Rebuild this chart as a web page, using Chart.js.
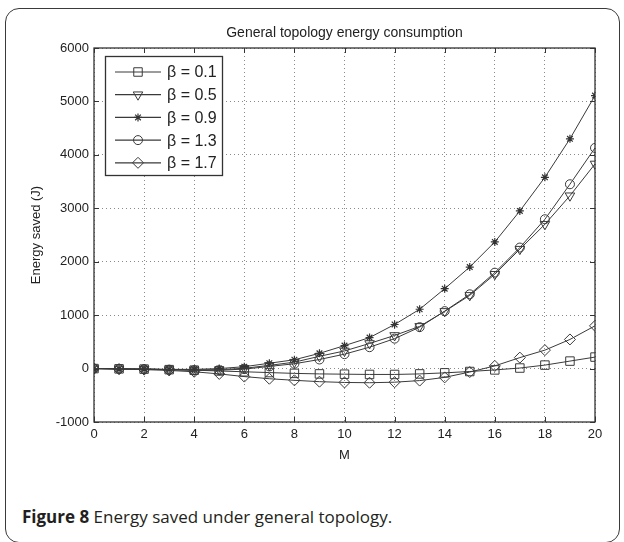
<!DOCTYPE html>
<html>
<head>
<meta charset="utf-8">
<script src="https://cdn.jsdelivr.net/npm/chart.js@4.4.1/dist/chart.umd.min.js"></script>
<style>
  html, body { margin: 0; padding: 0; background: #fff; }
  #page { position: relative; width: 624px; height: 542px; overflow: hidden; }
  #frame { position: absolute; left: 5px; top: 8px; width: 615px; height: 535px;
           border: 1.5px solid #3a3a3a; border-radius: 14px; box-sizing: border-box; }
  #plot { position: absolute; left: 0; top: 0; }
  #caption { position: absolute; left: 22px; top: 505px; font-family: "Open Sans", sans-serif;
             font-size: 17px; line-height: 23px; color: #231f20; white-space: nowrap; }
</style>
</head>
<body>
<div id="page">
  <div id="frame"></div>
  <canvas id="plot" width="624" height="470"></canvas>
  <div id="caption"><b>Figure 8</b> Energy saved under general topology.</div>
</div>
<script>
// M values (x axis)
var mValues = [0, 1, 2, 3, 4, 5, 6, 7, 8, 9, 10, 11, 12, 13, 14, 15, 16, 17, 18, 19, 20];

// energy saved (J)
var beta01 = [0, -5, -10, -20, -30, -45, -60, -75, -90, -100, -105, -110, -110, -100, -80, -55, -25, 10, 65, 140, 215];
var beta05 = [0, -5, -10, -20, -25, -20, 5, 60, 120, 230, 330, 470, 620, 790, 1070, 1370, 1765, 2235, 2700, 3235, 3830];
var beta09 = [0, -5, -10, -15, -15, 0, 35, 100, 165, 285, 430, 580, 825, 1110, 1495, 1900, 2370, 2950, 3580, 4300, 5110];
var beta13 = [0, -5, -10, -20, -30, -30, -10, 40, 90, 170, 270, 400, 560, 775, 1075, 1390, 1795, 2265, 2795, 3450, 4130];
var beta17 = [0, -10, -20, -35, -60, -100, -150, -190, -220, -245, -260, -265, -255, -225, -165, -65, 50, 205, 345, 545, 800];

var seriesLabels = ["β = 0.1", "β = 0.5", "β = 0.9", "β = 1.3", "β = 1.7"];

// axis ranges / ticks
var xMin = 0, xMax = 20, xStep = 2;
var yMin = -1000, yMax = 6000, yStep = 1000;

var FONT = "'Liberation Sans', Arial, sans-serif";
var LINE = "#3a3a3a";

function pts(ys) {
    return ys.map(function (y, i) { return { x: mValues[i], y: y }; });
}

function makeSet(label, ys, style, radius, extra) {
    var ds = {
        label: label,
        data: pts(ys),
        xAxisID: "x",
        borderColor: LINE,
        borderWidth: 1,
        pointStyle: style,
        pointRadius: radius,
        pointBorderColor: LINE,
        pointBackgroundColor: "rgba(255,255,255,0)",
        pointBorderWidth: 1,
        tension: 0
    };
    for (var k in extra) ds[k] = extra[k];
    return ds;
}

var datasets = [
    makeSet(seriesLabels[0], beta01, "rect", 6, {}),
    makeSet(seriesLabels[1], beta05, "triangle", 5.5, { pointRotation: 180 }),
    makeSet(seriesLabels[2], beta09, "star", 4, { pointBorderWidth: 1.2, pointBorderColor: "#333" }),
    makeSet(seriesLabels[3], beta13, "circle", 4.5, {}),
    makeSet(seriesLabels[4], beta17, "rectRot", 5.5, {})
];

function marker(ctx, ds, x, y) {
    var opts = {
        pointStyle: ds.pointStyle,
        rotation: ds.pointRotation || 0,
        radius: ds.pointRadius,
        borderWidth: ds.pointBorderWidth
    };
    ctx.save();
    ctx.strokeStyle = ds.pointBorderColor;
    ctx.fillStyle = ds.pointBackgroundColor;
    ctx.lineWidth = ds.pointBorderWidth;
    if (Chart.helpers && Chart.helpers.drawPoint) {
        Chart.helpers.drawPoint(ctx, opts, x, y);
    } else {
        ctx.beginPath();
        ctx.arc(x, y, ds.pointRadius, 0, Math.PI * 2);
        ctx.stroke();
    }
    ctx.restore();
}

// box, inward ticks and legend (matlab style)
var matlabBits = {
    id: "matlabBits",
    afterDraw: function (chart) {
        var ctx = chart.ctx;
        var a = chart.chartArea;
        var sx = chart.scales.x, sy = chart.scales.y;
        ctx.save();
        ctx.strokeStyle = "#333";
        ctx.lineWidth = 1.3;
        ctx.strokeRect(a.left, a.top, a.right - a.left, a.bottom - a.top);
        ctx.lineWidth = 1;
        var t = 5;
        ctx.beginPath();
        for (var v = xMin; v <= xMax; v += xStep) {
            var px = Math.round(sx.getPixelForValue(v)) + 0.5;
            ctx.moveTo(px, a.bottom); ctx.lineTo(px, a.bottom - t);
            ctx.moveTo(px, a.top); ctx.lineTo(px, a.top + t);
        }
        for (var w = yMin; w <= yMax; w += yStep) {
            var py = Math.round(sy.getPixelForValue(w)) + 0.5;
            ctx.moveTo(a.left, py); ctx.lineTo(a.left + t, py);
            ctx.moveTo(a.right, py); ctx.lineTo(a.right - t, py);
        }
        ctx.stroke();

        // legend
        var lx = a.left + 11, ly = a.top + 8, lw = 117, lh = 119;
        ctx.fillStyle = "#fff";
        ctx.fillRect(lx, ly, lw, lh);
        ctx.strokeStyle = "#333";
        ctx.lineWidth = 1.3;
        ctx.strokeRect(lx + 0.5, ly + 0.5, lw, lh);
        ctx.font = "16px " + FONT;
        ctx.textBaseline = "middle";
        chart.data.datasets.forEach(function (ds, i) {
            var ry = ly + 16 + i * 22.7;
            ctx.strokeStyle = LINE;
            ctx.lineWidth = 1.2;
            ctx.beginPath();
            ctx.moveTo(lx + 10, ry); ctx.lineTo(lx + 56, ry);
            ctx.stroke();
            marker(ctx, ds, lx + 33, ry);
            ctx.fillStyle = "#222";
            ctx.fillText(ds.label, lx + 62, ry + 1);
        });
        ctx.restore();
    }
};

var tickFont = { family: FONT, size: 13 };
var plain = function (v) { return String(v); };

new Chart(document.getElementById("plot").getContext("2d"), {
    type: "line",
    data: { datasets: datasets },
    options: {
        responsive: false,
        animation: false,
        layout: { padding: { left: 0, right: 29, top: 0, bottom: 0 } },
        plugins: {
            legend: { display: false },
            tooltip: { enabled: false }
        },
        scales: {
            x: {
                type: "linear",
                position: "bottom",
                min: xMin, max: xMax,
                ticks: { stepSize: xStep, color: "#222", font: tickFont, padding: 5, maxRotation: 0, callback: plain },
                grid: { color: "#8a8a8a", drawTicks: false, lineWidth: 1 },
                border: { display: false, dash: [1, 3] },
                title: { display: true, text: "M", color: "#222", font: tickFont, padding: { top: 0, bottom: 7 } },
                afterFit: function (s) { s.height = 48; }
            },
            top: {
                type: "linear",
                position: "top",
                min: xMin, max: xMax,
                ticks: { display: false },
                grid: { display: false, drawTicks: false },
                border: { display: false },
                title: {
                    display: true,
                    text: "General topology energy consumption",
                    color: "#222",
                    font: { family: FONT, size: 14 },
                    padding: { top: 24.6, bottom: 0 }
                },
                afterFit: function (s) { s.height = 48; }
            },
            y: {
                min: yMin, max: yMax,
                ticks: { stepSize: yStep, color: "#222", font: tickFont, padding: 5, callback: plain },
                grid: { color: "#8a8a8a", drawTicks: false, lineWidth: 1 },
                border: { display: false, dash: [1, 3] },
                title: { display: true, text: "Energy saved (J)", color: "#222", font: tickFont, padding: { top: 28.2, bottom: 0 } },
                afterFit: function (s) { s.width = 94; }
            }
        }
    },
    plugins: [matlabBits]
});
</script>
</body>
</html>
